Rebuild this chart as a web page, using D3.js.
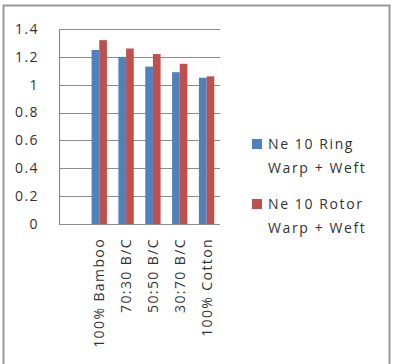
<!DOCTYPE html>
<html>
<head>
<meta charset="utf-8">
<script src="https://cdn.jsdelivr.net/npm/d3@7"></script>
<style>
  body { margin: 0; background: #fff; }
  text { font-family: "Open Sans", sans-serif; fill: #333; }
</style>
</head>
<body>
<div id="chart"></div>
<script>
// Categories (first slot is empty in the source chart)
const categories = ["", "100% Bamboo", "70:30 B/C", "50:50 B/C", "30:70 B/C", "100% Cotton"];

// Series values
const ring = [null, 1.25, 1.20, 1.13, 1.09, 1.05];
const rotor = [null, 1.32, 1.26, 1.22, 1.15, 1.06];

// Legend labels
const seriesNames = [["Ne 10 Ring", "Warp + Weft"], ["Ne 10 Rotor", "Warp + Weft"]];
const colors = ["#4F81BD", "#C0504D"];

// Y tick values
const yTicks = [0, 0.2, 0.4, 0.6, 0.8, 1, 1.2, 1.4];

const W = 395, H = 364;
const plot = {left: 59, right: 220, top: 29, bottom: 224};

const svg = d3.select("#chart").append("svg")
  .attr("width", W)
  .attr("height", H);

// outer frame
svg.append("rect")
  .attr("x", 3.5).attr("y", 5.5)
  .attr("width", 386).attr("height", 370)
  .attr("fill", "none")
  .attr("stroke", "#999")
  .attr("stroke-width", 2);

const y = d3.scaleLinear().domain([0, 1.4]).range([plot.bottom, plot.top]);
const x0 = d3.scaleBand().domain(categories).range([plot.left, plot.right]).padding(0);
// group of two bars with a 150% gap
const groupW = x0.bandwidth() * 2 / 3.5;
const x1 = d3.scaleBand().domain([0, 1])
  .range([(x0.bandwidth() - groupW) / 2, (x0.bandwidth() + groupW) / 2]);

// gridlines
svg.append("g")
  .selectAll("line")
  .data(yTicks)
  .join("line")
    .attr("x1", plot.left).attr("x2", plot.right)
    .attr("y1", d => Math.round(y(d)) + 0.5)
    .attr("y2", d => Math.round(y(d)) + 0.5)
    .attr("stroke", "#8c8c8c")
    .attr("stroke-width", 1.2);

// y axis line
svg.append("line")
  .attr("x1", plot.left + 0.5).attr("x2", plot.left + 0.5)
  .attr("y1", plot.top).attr("y2", plot.bottom + 1)
  .attr("stroke", "#8c8c8c")
  .attr("stroke-width", 1.2);

// y tick labels
svg.append("g")
  .selectAll("text")
  .data(yTicks)
  .join("text")
    .attr("x", 39)
    .attr("y", d => y(d))
    .attr("dy", "0.35em")
    .attr("text-anchor", "end")
    .style("font-size", "14px")
    .style("letter-spacing", "1.4px")
    .text(d => d3.format("~g")(d));

// bars
const series = [ring, rotor];
series.forEach(function(vals, s) {
  svg.append("g")
    .selectAll("rect")
    .data(categories.map((c, i) => ({c: c, v: vals[i]})).filter(d => d.v != null))
    .join("rect")
      .attr("x", d => x0(d.c) + x1(s))
      .attr("y", d => y(d.v))
      .attr("width", x1.bandwidth())
      .attr("height", d => plot.bottom - y(d.v))
      .attr("fill", colors[s]);
});

// x axis labels (rotated)
svg.append("g")
  .selectAll("text")
  .data(categories.filter(c => c !== ""))
  .join("text")
    .attr("transform", d => `translate(${x0(d) + x0.bandwidth() / 2 + 5},238) rotate(-90)`)
    .attr("text-anchor", "end")
    .style("font-size", "14px")
    .style("letter-spacing", "1.4px")
    .text(d => d);

// legend
const legend = svg.append("g");
seriesNames.forEach(function(lines, i) {
  const top = 144 + i * 60;
  legend.append("rect")
    .attr("x", 252).attr("y", top - 5)
    .attr("width", 10).attr("height", 10)
    .attr("fill", colors[i]);
  lines.forEach(function(t, j) {
    legend.append("text")
      .attr("x", 268)
      .attr("y", top + j * 24)
      .attr("dy", "0.35em")
      .style("font-size", "14px")
      .style("letter-spacing", "1.6px")
      .text(t);
  });
});
</script>
</body>
</html>
